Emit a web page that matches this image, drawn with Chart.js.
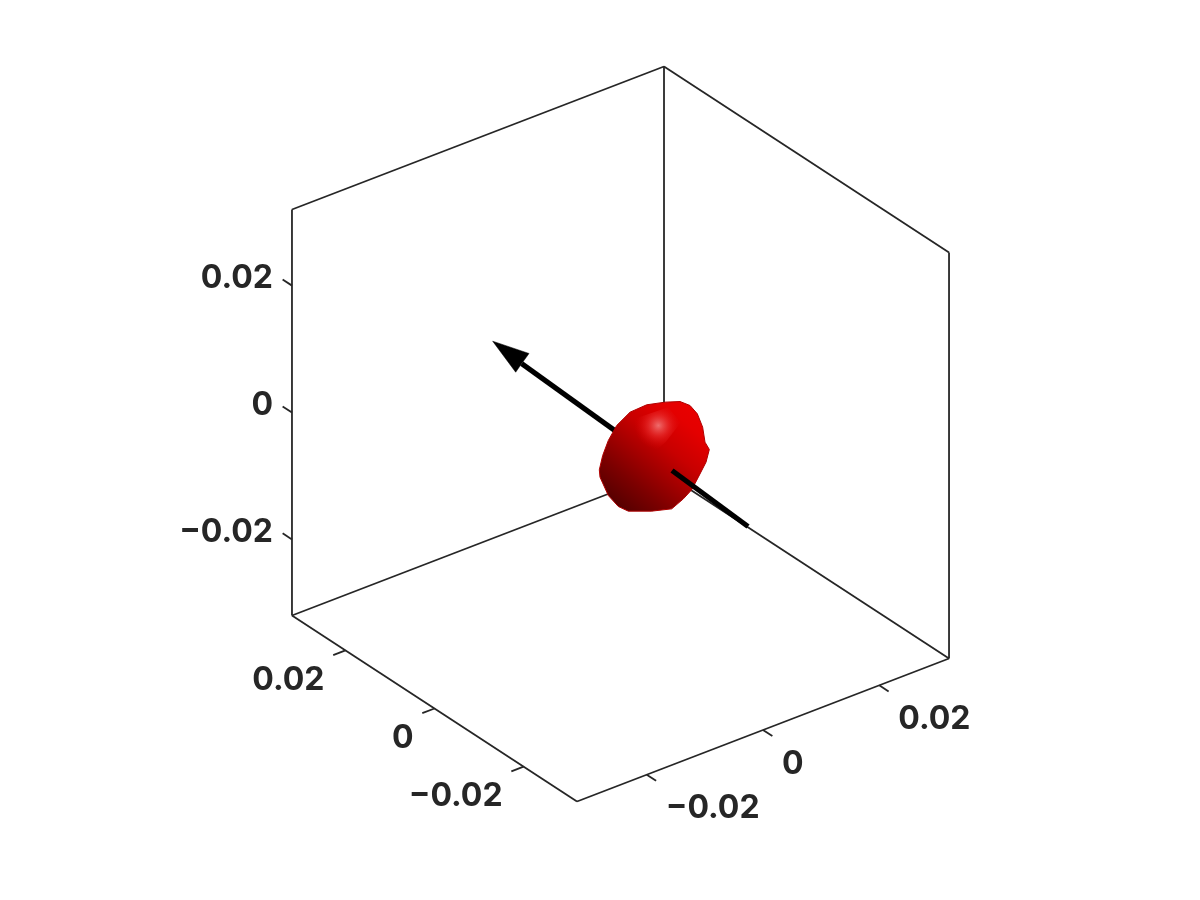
<!DOCTYPE html>
<html>
<head>
<meta charset="utf-8">
<title>3D dipole arrow</title>
<script src="https://cdn.jsdelivr.net/npm/chart.js@4/dist/chart.umd.min.js"></script>
<style>html,body{margin:0;padding:0;background:#fff}canvas{display:block}</style>
</head>
<body>
<canvas id="c" width="1200" height="900"></canvas>
<script>
// ---- data ----
const axisLimit = 0.032;
const tickValues = [-0.02, 0, 0.02];
const tickLabels = ['\u22120.02', '0', '0.02'];
const tickLength = 0.0021;

// Closed blob outline and arrow, in view-plane coordinates (units of 0.001)
const blobU = [7.02,9.38,10.96,12.11,12.95,13.32,14.0,13.48,12.27,11.22,9.91,8.07,4.91,1.23,-0.34,-1.92,-3.23,-3.34,-2.81,-1.92,-0.60,1.50,4.12,7.02];
const blobV = [5.02,5.12,4.49,3.18,1.08,-1.29,-2.44,-4.44,-6.80,-8.80,-10.22,-11.80,-12.16,-12.16,-11.43,-9.70,-6.80,-5.65,-3.39,-1.02,1.34,3.44,4.60,5.02];
const glintU = [0.5,7.5,9.5,7.2,4.0,1.8,0.5];
const glintV = [1.8,4.2,1.8,-1.2,-4.0,-1.5,1.8];
const shaftBackU = [3.07,-15.57];
const shaftBackV = [-2.29,11.11];
const shaftFrontU = [20.10,8.12];
const shaftFrontV = [-14.58,-5.75];
const headU = [-20.15,-14.42,-15.57,-16.52,-20.15];
const headV = [14.63,12.69,11.11,9.74,14.63];

// ---- view: orthographic projection of (a, b, z) on the page plane ----
const view = { a:[0.9163,0.3522], b:[-0.7020,0.4581], z:[0,1] };
const pxPerUnit = 6344, centreX = 620.5, centreY = 434;
const project = (a,b,z) => ({
  x: a*view.a[0] + b*view.b[0] + z*view.z[0],
  y: a*view.a[1] + b*view.b[1] + z*view.z[1]
});
const L = axisLimit;
const plane = (us,vs) => us.map((u,i)=>({x:u/1000,y:vs[i]/1000}));

const INK = '#262626';
const edges = [
  [[-L,L,-L],[-L,L,L]], [[L,L,-L],[L,L,L]], [[L,-L,-L],[L,-L,L]],
  [[-L,L,L],[L,L,L]], [[L,L,L],[L,-L,L]],
  [[-L,L,-L],[L,L,-L]], [[L,L,-L],[L,-L,-L]],
  [[-L,L,-L],[-L,-L,-L]], [[-L,-L,-L],[L,-L,-L]]
];
const ticks = [];
const labels = [];
tickValues.forEach((t,i)=>{
  ticks.push([[-L,L,t],[-L,L+tickLength,t]]);
  ticks.push([[-L,t,-L],[-L-tickLength,t,-L]]);
  ticks.push([[t,-L,-L],[t,-L-tickLength,-L]]);
  labels.push({p:project(-L,L,t), dx:-19, dy:-7, align:'right', text:tickLabels[i]});
  labels.push({p:project(-L,t,-L), dx:-21, dy:30, align:'right', text:tickLabels[i]});
  labels.push({p:project(t,-L,-L), dx:19, dy:34, align:'left', text:tickLabels[i]});
});
const seg = (s,color,w)=>({data:s.map(p=>project(p[0],p[1],p[2])),borderColor:color,borderWidth:w,showLine:true,pointRadius:0,fill:false,tension:0});

const px = (chart,u,v)=>[chart.scales.x.getPixelForValue(u/1000),chart.scales.y.getPixelForValue(v/1000)];
const blobFill = ctx=>{
  const c=ctx.chart; if(!c.chartArea) return '#b00000';
  const a=px(c,-3,-13), b=px(c,11,4);
  const g=c.ctx.createLinearGradient(a[0],a[1],b[0],b[1]);
  g.addColorStop(0,'#3c0000'); g.addColorStop(0.33,'#7c0000');
  g.addColorStop(0.68,'#c80000'); g.addColorStop(0.9,'#e40000'); g.addColorStop(1,'#e80000');
  return g;
};
const glintFill = ctx=>{
  const c=ctx.chart; if(!c.chartArea) return 'rgba(240,100,100,0.6)';
  const a=px(c,5.97,1.34);
  const g=c.ctx.createRadialGradient(a[0],a[1],0,a[0],a[1],24);
  g.addColorStop(0,'rgba(240,115,115,0.95)'); g.addColorStop(0.45,'rgba(235,50,50,0.6)'); g.addColorStop(1,'rgba(220,0,0,0)');
  return g;
};
const poly = (us,vs,fillCol,border,w)=>({data:plane(us,vs),showLine:true,fill:'shape',backgroundColor:fillCol,borderColor:border,borderWidth:w,pointRadius:0,tension:0});

const layers = [
  ...edges.map(e=>seg(e,INK,1.8)),
  ...ticks.map(e=>seg(e,INK,1.8)),
  {data:plane(shaftBackU,shaftBackV),showLine:true,borderColor:'#000',borderWidth:5.2,pointRadius:0,fill:false},
  poly(headU,headV,'#000','#000',0.5),
  poly(blobU,blobV,blobFill,'#b00000',1),
  poly(glintU,glintV,glintFill,'rgba(0,0,0,0)',0),
  {data:plane(shaftFrontU,shaftFrontV),showLine:true,borderColor:'#000',borderWidth:5.2,pointRadius:0,fill:false}
];

const tickText = {
  id:'tickText',
  afterDatasetsDraw(chart){
    const c=chart.ctx;
    c.save();
    c.font='700 32px Inter';
    c.fillStyle=INK;
    c.textBaseline='middle';
    labels.forEach(l=>{
      c.textAlign=l.align;
      c.fillText(l.text,chart.scales.x.getPixelForValue(l.p.x)+l.dx,chart.scales.y.getPixelForValue(l.p.y)+l.dy);
    });
    c.restore();
  }
};

new Chart(document.getElementById('c'),{
  type:'scatter',
  data:{datasets:layers.reverse()},
  plugins:[tickText],
  options:{
    responsive:false,animation:false,
    layout:{padding:0},
    plugins:{legend:{display:false},tooltip:{enabled:false},title:{display:false}},
    elements:{line:{borderCapStyle:'butt',borderJoinStyle:'miter'}},
    scales:{
      x:{type:'linear',display:false,min:-centreX/pxPerUnit,max:(1200-centreX)/pxPerUnit},
      y:{type:'linear',display:false,min:-(900-centreY)/pxPerUnit,max:centreY/pxPerUnit}
    }
  }
});
</script>
</body>
</html>
